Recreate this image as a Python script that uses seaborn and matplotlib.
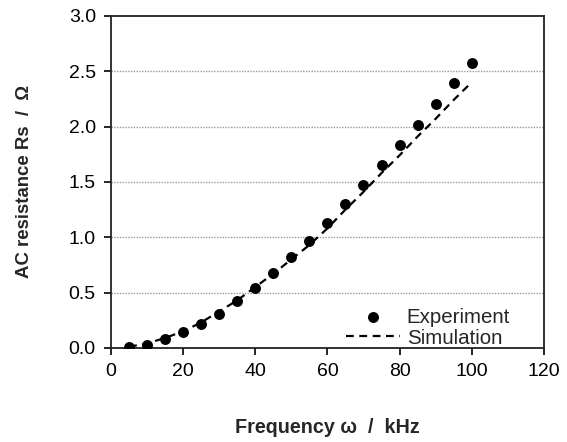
import matplotlib
matplotlib.use("Agg")
import matplotlib.pyplot as plt
import seaborn as sns
import pandas as pd

freq = [5, 10, 15, 20, 25, 30, 35, 40, 45, 50, 55, 60, 65, 70, 75, 80, 85, 90, 95, 100]
experiment = [0.01, 0.03, 0.08, 0.14, 0.22, 0.31, 0.42, 0.54, 0.68, 0.82, 0.97, 1.13, 1.30, 1.47, 1.65, 1.83, 2.01, 2.20, 2.39, 2.57]
simulation = [0.01, 0.04, 0.09, 0.15, 0.23, 0.33, 0.43, 0.55, 0.67, 0.80, 0.93, 1.08, 1.25, 1.41, 1.58, 1.74, 1.91, 2.07, 2.24, 2.40]
x_ticks = [0, 20, 40, 60, 80, 100, 120]
y_ticks = [0.0, 0.5, 1.0, 1.5, 2.0, 2.5, 3.0]

df = pd.DataFrame({"freq": freq, "Experiment": experiment, "Simulation": simulation})

sns.set_style("ticks")
plt.rcParams["font.family"] = ["Liberation Sans", "DejaVu Sans"]

fig = plt.figure(figsize=(5.67, 4.42), dpi=100)
ax = fig.add_axes([0.196, 0.213, 0.763, 0.751])

for yv in y_ticks[1:-1]:
    ax.axhline(yv, color="#9a9a9a", lw=1.0, ls=(0, (1, 1)), zorder=0)

sns.lineplot(data=df, x="freq", y="Simulation", ax=ax, color="black", lw=1.6,
             label="Simulation", zorder=2)
ax.lines[-1].set_dashes([3.5, 2.5])
sns.scatterplot(data=df, x="freq", y="Experiment", ax=ax, color="black", s=62,
                edgecolor="black", linewidth=0, label="Experiment", zorder=3)

ax.set_xlim(0, 120)
ax.set_ylim(0, 3.0)
ax.set_xticks(x_ticks)
ax.set_yticks(y_ticks)
ax.set_yticklabels([f"{v:.1f}" for v in y_ticks])
ax.tick_params(direction="out", length=5, width=1.2, labelsize=14, colors="black", pad=6)
for s in ax.spines.values():
    s.set_linewidth(1.3)
    s.set_color("#222222")

ax.set_xlabel("Frequency ω  /  kHz", fontsize=14.2, fontweight="bold", labelpad=27)
ax.set_ylabel("AC resistance Rs  /  Ω", fontsize=13.4, fontweight="bold", labelpad=26)

handles, labels = ax.get_legend_handles_labels()
order = [labels.index("Experiment"), labels.index("Simulation")]
ax.legend([handles[i] for i in order], [labels[i] for i in order],
          loc="lower right", bbox_to_anchor=(0.965, -0.055), frameon=False,
          fontsize=14.8, handlelength=2.6, handletextpad=0.35, labelspacing=0.1)

fig.savefig("out.png", dpi=100)
